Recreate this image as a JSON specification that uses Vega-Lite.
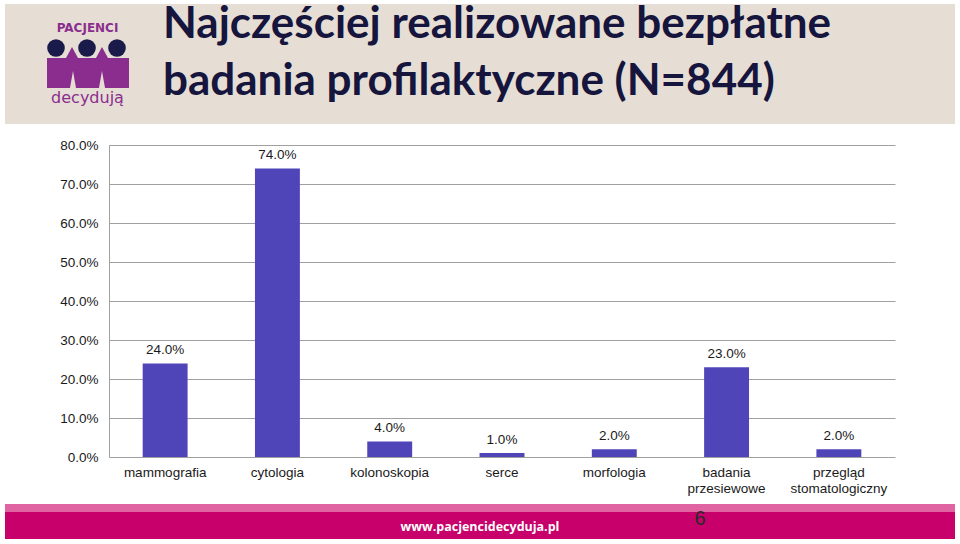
{
  "$schema": "https://vega.github.io/schema/vega-lite/v6.json",
  "background": "white",
  "padding": {"left": 5, "top": 3, "right": 5, "bottom": 6},
  "bounds": "flush",
  "spacing": 0,
  "config": {"view": {"stroke": null}, "font": "Liberation Sans"},
  "vconcat": [
    {
      "width": 950,
      "height": 120,
      "view": {"fill": "#e6ded4", "stroke": null},
      "data": {"values": [{"line1": "Najczęściej realizowane bezpłatne", "line2": "badania profilaktyczne (N=844)", "logoTop": "PACJENCI", "logoBottom": "decydują"}]},
      "layer": [
        {
          "mark": {"type": "point", "shape": "M-1,-0.366L-0.537,-0.366L-0.39,-0.634L-0.244,-0.366L0.195,-0.366L0.341,-0.634L0.488,-0.366L1,-0.366L1,0.366L0.415,0.366L0.341,-0.049L0.268,0.366L-0.293,0.366L-0.366,-0.049L-0.439,0.366L-1,0.366Z", "filled": true, "color": "#8b2d8f", "opacity": 1, "size": 6724, "strokeWidth": 0},
          "encoding": {
            "x": {"datum": 83, "type": "quantitative", "scale": {"domain": [0, 950], "nice": false, "zero": false}, "axis": null},
            "y": {"datum": 69, "type": "quantitative", "scale": {"domain": [0, 120], "reverse": true, "nice": false, "zero": false}, "axis": null}
          }
        },
        {
          "mark": {"type": "point", "shape": "circle", "filled": true, "color": "#1b1b4b", "opacity": 1, "size": 310},
          "encoding": {
            "x": {"datum": 51, "type": "quantitative", "scale": {"domain": [0, 950], "nice": false, "zero": false}, "axis": null},
            "y": {"datum": 44, "type": "quantitative", "scale": {"domain": [0, 120], "reverse": true, "nice": false, "zero": false}, "axis": null}
          }
        },
        {
          "mark": {"type": "point", "shape": "circle", "filled": true, "color": "#1b1b4b", "opacity": 1, "size": 310},
          "encoding": {
            "x": {"datum": 82, "type": "quantitative", "scale": {"domain": [0, 950], "nice": false, "zero": false}, "axis": null},
            "y": {"datum": 44, "type": "quantitative", "scale": {"domain": [0, 120], "reverse": true, "nice": false, "zero": false}, "axis": null}
          }
        },
        {
          "mark": {"type": "point", "shape": "circle", "filled": true, "color": "#1b1b4b", "opacity": 1, "size": 310},
          "encoding": {
            "x": {"datum": 112, "type": "quantitative", "scale": {"domain": [0, 950], "nice": false, "zero": false}, "axis": null},
            "y": {"datum": 44, "type": "quantitative", "scale": {"domain": [0, 120], "reverse": true, "nice": false, "zero": false}, "axis": null}
          }
        },
        {
          "mark": {"type": "text", "font": "DejaVu Sans", "fontWeight": "bold", "fontSize": 12, "color": "#8b2d8f", "align": "center", "baseline": "middle"},
          "encoding": {
            "x": {"datum": 82.5, "type": "quantitative", "scale": {"domain": [0, 950], "nice": false, "zero": false}, "axis": null},
            "y": {"datum": 24, "type": "quantitative", "scale": {"domain": [0, 120], "reverse": true, "nice": false, "zero": false}, "axis": null},
            "text": {"field": "logoTop", "type": "nominal"}
          }
        },
        {
          "mark": {"type": "text", "font": "DejaVu Sans", "fontSize": 16, "color": "#8b2d8f", "align": "center", "baseline": "alphabetic"},
          "encoding": {
            "x": {"datum": 82.5, "type": "quantitative", "scale": {"domain": [0, 950], "nice": false, "zero": false}, "axis": null},
            "y": {"datum": 99, "type": "quantitative", "scale": {"domain": [0, 120], "reverse": true, "nice": false, "zero": false}, "axis": null},
            "text": {"field": "logoBottom", "type": "nominal"}
          }
        },
        {
          "mark": {"type": "text", "font": "Lato", "fontWeight": "bold", "fontSize": 44, "color": "#15153d", "align": "left", "baseline": "alphabetic"},
          "encoding": {
            "x": {"datum": 158, "type": "quantitative", "scale": {"domain": [0, 950], "nice": false, "zero": false}, "axis": null},
            "y": {"datum": 34, "type": "quantitative", "scale": {"domain": [0, 120], "reverse": true, "nice": false, "zero": false}, "axis": null},
            "text": {"field": "line1", "type": "nominal"}
          }
        },
        {
          "mark": {"type": "text", "font": "Lato", "fontWeight": "bold", "fontSize": 44, "color": "#15153d", "align": "left", "baseline": "alphabetic"},
          "encoding": {
            "x": {"datum": 158, "type": "quantitative", "scale": {"domain": [0, 950], "nice": false, "zero": false}, "axis": null},
            "y": {"datum": 91, "type": "quantitative", "scale": {"domain": [0, 120], "reverse": true, "nice": false, "zero": false}, "axis": null},
            "text": {"field": "line2", "type": "nominal"}
          }
        }
      ]
    },
    {"width": 950, "height": 21, "data": {"values": []}, "mark": "point"},
    {
      "bounds": "flush",
      "spacing": 0,
      "hconcat": [
        {"width": 104, "height": 312, "data": {"values": []}, "mark": "point"},
        {
          "width": 786,
          "height": 312,
          "data": {"values": [
            {"badanie": "mammografia", "odsetek": 0.24},
            {"badanie": "cytologia", "odsetek": 0.74},
            {"badanie": "kolonoskopia", "odsetek": 0.04},
            {"badanie": "serce", "odsetek": 0.01},
            {"badanie": "morfologia", "odsetek": 0.02},
            {"badanie": "badania przesiewowe", "odsetek": 0.23},
            {"badanie": "przegląd stomatologiczny", "odsetek": 0.02}
          ]},
          "encoding": {
            "x": {
              "field": "badanie", "type": "nominal", "sort": null,
              "scale": {"paddingInner": 0.6, "paddingOuter": 0.3},
              "axis": {"title": null, "labelAngle": 0, "domain": false, "ticks": false, "labelPadding": 8, "labelFontSize": 13.5, "labelColor": "#1a1a1a", "labelLineHeight": 16, "labelExpr": "split(datum.label, ' ')"}
            },
            "y": {
              "field": "odsetek", "type": "quantitative",
              "scale": {"domain": [0, 0.8], "nice": false},
              "axis": {"title": null, "values": [0, 0.1, 0.2, 0.3, 0.4, 0.5, 0.6, 0.7, 0.8], "format": ".1%", "ticks": false, "domainColor": "#a0a0a0", "gridColor": "#a0a0a0", "gridOpacity": 1, "labelFontSize": 13.5, "labelColor": "#1a1a1a", "labelPadding": 11}
            }
          },
          "layer": [
            {"mark": {"type": "bar", "color": "#5045b8"}},
            {
              "mark": {"type": "text", "baseline": "bottom", "dy": -6, "fontSize": 13.5, "color": "#1a1a1a"},
              "encoding": {"text": {"field": "odsetek", "type": "quantitative", "format": ".1%"}}
            }
          ]
        }
      ]
    },
    {"width": 950, "height": 359, "data": {"values": []}, "mark": "point"},
    {"width": 950, "height": 8, "view": {"fill": "#e063a2", "stroke": null}, "data": {"values": []}, "mark": "point"},
    {
      "width": 950,
      "height": 27,
      "view": {"fill": "#c8006b", "stroke": null},
      "data": {"values": [{"site": "www.pacjencidecyduja.pl", "page": "6"}]},
      "layer": [
        {
          "mark": {"type": "text", "font": "Open Sans", "fontWeight": "bold", "fontSize": 12.5, "color": "white", "align": "center", "baseline": "middle"},
          "encoding": {
            "x": {"datum": 475, "type": "quantitative", "scale": {"domain": [0, 950], "nice": false, "zero": false}, "axis": null},
            "y": {"datum": 15, "type": "quantitative", "scale": {"domain": [0, 27], "reverse": true, "nice": false, "zero": false}, "axis": null},
            "text": {"field": "site", "type": "nominal"}
          }
        },
        {
          "mark": {"type": "text", "font": "Liberation Sans Narrow, Liberation Sans", "fontSize": 20, "color": "#2a2a2a", "align": "center", "baseline": "middle"},
          "encoding": {
            "x": {"datum": 695, "type": "quantitative", "scale": {"domain": [0, 950], "nice": false, "zero": false}, "axis": null},
            "y": {"datum": 6.5, "type": "quantitative", "scale": {"domain": [0, 27], "reverse": true, "nice": false, "zero": false}, "axis": null},
            "text": {"field": "page", "type": "nominal"}
          }
        }
      ]
    }
  ]
}
